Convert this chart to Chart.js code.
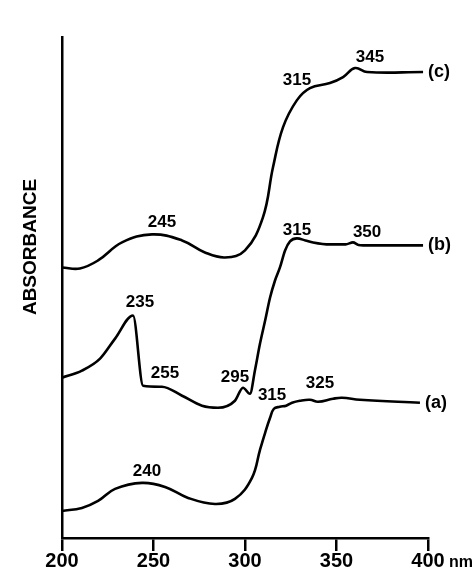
<!DOCTYPE html>
<html>
<head>
<meta charset="utf-8">
<script src="https://cdn.jsdelivr.net/npm/chart.js@4/dist/chart.umd.min.js"></script>
<style>
  html, body { margin: 0; padding: 0; background: #fff; }
  #wrap { width: 476px; height: 571px; }
</style>
</head>
<body>
<div id="wrap"><canvas id="myChart" width="476" height="571"></canvas></div>
<script>
// spectra (wavelength nm, absorbance in arbitrary units 0-100)
var aNm  = [200, 210.9, 219.7, 229, 243.7, 256.3, 268.9, 283.6, 294.5, 303.8, 308.2, 311, 313.7, 315.8, 319, 322.5, 325.7, 330, 335.5, 339.9, 348.1, 353, 362.8, 395.6];
var aAbs = [5.4, 6, 7.4, 9.8, 11, 10.2, 8, 6.8, 7.8, 12, 17.6, 21, 24, 25.8, 26.2, 26.4, 27, 27.4, 27.6, 27.2, 27.8, 28, 27.6, 27];

var bNm  = [200, 210.9, 220.8, 229, 238.8, 244.3, 254.6, 265.6, 276.5, 285.2, 294.5, 298.9, 302.7, 305.5, 308.2, 311, 313.7, 316.4, 319.1, 321.9, 324.6, 328.4, 333, 337.2, 346.4, 355, 359, 362, 368.3, 397.3];
var bAbs = [32, 33.4, 35.8, 39.8, 44.4, 30.4, 30.2, 28.4, 26.4, 26, 27.4, 30, 28.8, 33.6, 38.8, 43.4, 48, 51.4, 54, 57.4, 59.2, 59.8, 59.4, 59, 58.6, 58.6, 59, 58.5, 58.4, 58.4];

var cNm  = [200, 209.8, 219.7, 232.8, 249.2, 265.6, 278.1, 289.1, 300, 309.8, 315.3, 320.8, 328.4, 335.5, 346.4, 353.6, 360.1, 366.7, 397.3];
var cAbs = [54, 53.8, 55.4, 59, 60.6, 59.4, 57, 56, 57.4, 64, 74, 82, 87.4, 89.8, 90.8, 92, 93.8, 93, 93];

var curveNames = ['(a)', '(b)', '(c)'];

// peak annotations
var peakText = ['240', '315', '325', '235', '255', '295', '315', '350', '245', '315', '345'];
var peakNm   = [246.4, 314.8, 341, 242.6, 256.3, 294.5, 328.4, 366.7, 254.6, 328.4, 368.3];
var peakAbs  = [13.4, 28.4, 30.8, 47, 32.8, 32, 61.4, 61, 63, 91.4, 96];

var xTicks = [200, 250, 300, 350, 400];

function pts(xs, ys) {
    return xs.map(function (x, i) { return {x: x, y: ys[i]}; });
}

var FONT = '"Liberation Sans", Arial, sans-serif';

var labelPlugin = {
    id: 'labels',
    afterDraw: function (chart) {
        var ctx = chart.ctx;
        var xs = chart.scales.x, ys = chart.scales.y;
        ctx.save();
        ctx.fillStyle = '#000';
        ctx.textBaseline = 'middle';
        ctx.textAlign = 'center';
        ctx.font = 'bold 17px ' + FONT;
        for (var i = 0; i < peakText.length; i++) {
            ctx.fillText(peakText[i], xs.getPixelForValue(peakNm[i]), ys.getPixelForValue(peakAbs[i]));
        }
        // curve names at the end of each trace
        ctx.textAlign = 'left';
        ctx.font = 'bold 18px ' + FONT;
        chart.data.datasets.forEach(function (ds, k) {
            var last = ds.data[ds.data.length - 1];
            ctx.fillText(curveNames[k], xs.getPixelForValue(last.x) + 5, ys.getPixelForValue(last.y));
        });
        // unit after the last tick
        ctx.font = 'bold 16px ' + FONT;
        ctx.fillText('nm', xs.getPixelForValue(400) + 21, 563);
        // y title, sits above the middle of the axis in the original
        ctx.translate(31, 247);
        ctx.rotate(-Math.PI / 2);
        ctx.textAlign = 'center';
        ctx.font = 'bold 19px ' + FONT;
        ctx.fillText('ABSORBANCE', 0, 0);
        ctx.restore();
    }
};

var ctx = document.getElementById('myChart').getContext('2d');
var myChart = new Chart(ctx, {
    type: 'line',
    data: {
        datasets: [
            {label: '(a)', data: pts(aNm, aAbs), tension: 0.4},
            {label: '(b)', data: pts(bNm, bAbs), cubicInterpolationMode: 'monotone'},
            {label: '(c)', data: pts(cNm, cAbs), tension: 0.4}
        ]
    },
    options: {
        responsive: false,
        animation: false,
        events: [],
        layout: {padding: {left: 54, top: 37, right: 48, bottom: 0}},
        elements: {
            line: {borderColor: '#000', borderWidth: 2.6, fill: false},
            point: {radius: 0}
        },
        plugins: {legend: {display: false}, tooltip: {enabled: false}},
        scales: {
            x: {
                type: 'linear',
                min: 200,
                max: 400,
                afterBuildTicks: function (axis) { axis.ticks = xTicks.map(function (v) { return {value: v}; }); },
                ticks: {color: '#000', padding: 0, font: {family: FONT, size: 20, weight: 'bold', lineHeight: 1}},
                grid: {drawOnChartArea: false, drawTicks: true, tickLength: 13, color: '#000', lineWidth: 2.5},
                border: {display: true, color: '#000', width: 2.5}
            },
            y: {
                min: 0,
                max: 100,
                ticks: {display: false},
                grid: {display: false},
                border: {display: true, color: '#000', width: 2.5}
            }
        }
    },
    plugins: [labelPlugin]
});
</script>
</body>
</html>
